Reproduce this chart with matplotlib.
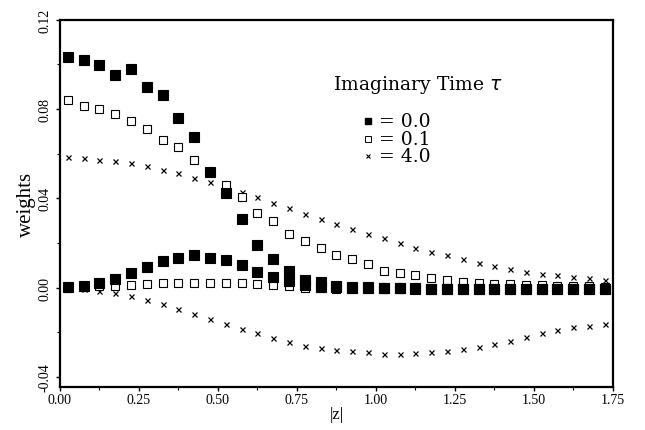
#!/usr/bin/env python3
# coding: utf-8
from __future__ import annotations

import matplotlib

matplotlib.use("Agg")
import matplotlib.pyplot as plt
from matplotlib.ticker import MultipleLocator, FormatStrFormatter

# Constants
SERIF_FONT = "Liberation Serif"
LEGEND_FONT = "DejaVu Serif"
FIG_SIZE = (6.45, 4.31)
DPI = 100

# |z| sample positions
z_vals = [
    0.025, 0.075, 0.125, 0.175, 0.225, 0.275, 0.325, 0.375, 0.425, 0.475,
    0.525, 0.575, 0.625, 0.675, 0.725, 0.775, 0.825, 0.875, 0.925, 0.975,
    1.025, 1.075, 1.125, 1.175, 1.225, 1.275, 1.325, 1.375, 1.425, 1.475,
    1.525, 1.575, 1.625, 1.675, 1.725,
]

# tau = 0.0 (filled squares), two branches
tau0_upper = [
    0.1033, 0.1019, 0.0997, 0.0953, 0.0979, 0.0898, 0.0861, 0.0762, 0.0675, 0.0520,
    0.0426, 0.0308, 0.0191, 0.0128, 0.0076, 0.0034, 0.0025, 0.0008, 0.0004, 0.0002,
    0.0000, -0.0002, -0.0003, -0.0004, -0.0005, -0.0005, -0.0005, -0.0005, -0.0005, -0.0005,
    -0.0005, -0.0005, -0.0005, -0.0005, -0.0005,
]
tau0_lower = [
    0.0003, 0.0006, 0.0022, 0.0039, 0.0067, 0.0091, 0.0118, 0.0133, 0.0145, 0.0133,
    0.0122, 0.0101, 0.0069, 0.0049, 0.0030, 0.0012, 0.0005, 0.0002, 0.0000, -0.0001,
    -0.0002, -0.0003, -0.0004, -0.0005, -0.0005, -0.0005, -0.0005, -0.0005, -0.0005, -0.0005,
    -0.0005, -0.0005, -0.0005, -0.0005, -0.0005,
]

# tau = 0.1 (open squares), two branches
tau01_upper = [
    0.0839, 0.0812, 0.0800, 0.0777, 0.0747, 0.0711, 0.0662, 0.0628, 0.0570, 0.0516,
    0.0460, 0.0405, 0.0336, 0.0299, 0.0239, 0.0211, 0.0176, 0.0146, 0.0130, 0.0104,
    0.0076, 0.0064, 0.0055, 0.0045, 0.0034, 0.0027, 0.0022, 0.0018, 0.0015, 0.0012,
    0.0010, 0.0008, 0.0007, 0.0006, 0.0005,
]
tau01_lower = [
    0.0000, 0.0003, 0.0009, 0.0009, 0.0012, 0.0016, 0.0021, 0.0021, 0.0022, 0.0021,
    0.0021, 0.0019, 0.0015, 0.0012, 0.0009, -0.0003, -0.0003, -0.0004, -0.0004, -0.0004,
    -0.0004, -0.0004, -0.0004, -0.0004, -0.0004, -0.0004, -0.0004, -0.0004, -0.0004, -0.0004,
    -0.0004, -0.0004, -0.0004, -0.0004, -0.0004,
]

# tau = 4.0 (crosses), two branches
tau4_upper = [
    0.0587, 0.0580, 0.0572, 0.0568, 0.0557, 0.0545, 0.0527, 0.0513, 0.0493, 0.0472,
    0.0460, 0.0427, 0.0405, 0.0381, 0.0356, 0.0329, 0.0306, 0.0284, 0.0261, 0.0239,
    0.0221, 0.0199, 0.0179, 0.0161, 0.0146, 0.0127, 0.0112, 0.0099, 0.0083, 0.0072,
    0.0063, 0.0057, 0.0048, 0.0042, 0.0034,
]
tau4_lower = [
    0.0000, -0.0005, -0.0015, -0.0022, -0.0036, -0.0056, -0.0074, -0.0094, -0.0118, -0.0139,
    -0.0161, -0.0184, -0.0204, -0.0224, -0.0242, -0.0260, -0.0272, -0.0281, -0.0284, -0.0290,
    -0.0295, -0.0296, -0.0293, -0.0289, -0.0283, -0.0275, -0.0265, -0.0252, -0.0238, -0.0222,
    -0.0205, -0.0190, -0.0178, -0.0170, -0.0165,
]

x_ticks = [0.0, 0.25, 0.5, 0.75, 1.0, 1.25, 1.5, 1.75]
y_ticks = [-0.04, 0.0, 0.04, 0.08, 0.12]
legend_labels = ["= 0.0", "= 0.1", "= 4.0"]


def plot_weights(output_path: str = "out.png") -> None:
    fig = plt.figure(figsize=FIG_SIZE, dpi=DPI)
    ax = fig.add_axes([0.093, 0.0998, 0.857, 0.852])

    filled = dict(marker="s", ls="none", ms=7.0, mfc="black", mec="black", mew=0.8)
    hollow = dict(marker="s", ls="none", ms=5.6, mfc="white", mec="black", mew=0.8)
    cross = dict(marker="x", ls="none", ms=3.6, color="black", mew=0.9)

    # open squares / crosses first so filled ones sit on top like in the scan
    ax.plot(z_vals, tau4_upper, **cross)
    ax.plot(z_vals, tau4_lower, **cross)
    ax.plot(z_vals, tau01_upper, **hollow)
    ax.plot(z_vals, tau01_lower, **hollow)
    ax.plot(z_vals, tau0_upper, **filled)
    ax.plot(z_vals, tau0_lower, **filled)

    ax.set_xlim(0.0, 1.75)
    ax.set_ylim(-0.0445, 0.12)
    ax.set_xticks(x_ticks)
    ax.set_yticks(y_ticks)
    ax.xaxis.set_minor_locator(MultipleLocator(0.125))
    ax.yaxis.set_minor_locator(MultipleLocator(0.02))
    ax.xaxis.set_major_formatter(FormatStrFormatter("%.2f"))
    ax.yaxis.set_major_formatter(FormatStrFormatter("%.2f"))

    for spine in ax.spines.values():
        spine.set_linewidth(1.6)
    ax.tick_params(which="major", direction="out", length=3, width=1.0)
    ax.tick_params(which="minor", direction="out", length=2, width=0.8)
    ax.tick_params(axis="x", labelsize=10, pad=1.5)
    ax.tick_params(axis="y", labelsize=10, pad=3, labelrotation=90)
    for lbl in ax.get_xticklabels() + ax.get_yticklabels():
        lbl.set_family(SERIF_FONT)
    for lbl in ax.get_yticklabels():
        lbl.set_va("center")

    ax.set_xlabel("|z|", family=SERIF_FONT, fontsize=12, labelpad=0)
    ax.set_ylabel("weights", family=SERIF_FONT, fontsize=15, labelpad=2)

    # hand-made legend
    ax.text(0.647, 0.826, "Imaginary Time $\\tau$", transform=ax.transAxes,
            ha="center", va="center", family=LEGEND_FONT, fontsize=13.5)
    rows = [0.725, 0.676, 0.629]
    styles = [
        dict(marker="s", ms=5.0, mfc="black", mec="black"),
        dict(marker="s", ms=4.5, mfc="white", mec="black", mew=0.7),
        dict(marker="x", ms=3.0, color="black", mew=0.8),
    ]
    for y, style, label in zip(rows, styles, legend_labels):
        ax.plot([0.557], [y], transform=ax.transAxes, ls="none", **style)
        ax.text(0.578, y, label, transform=ax.transAxes, ha="left", va="center",
                family=LEGEND_FONT, fontsize=13.5)

    fig.savefig(output_path, dpi=DPI)


def main() -> None:
    plot_weights("out.png")


if __name__ == "__main__":
    main()
